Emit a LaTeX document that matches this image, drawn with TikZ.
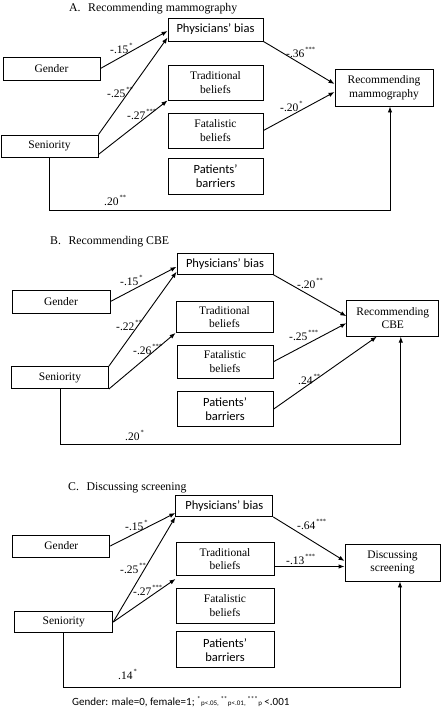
\documentclass[tikz,border=0pt]{standalone}
\usepackage{fontspec}
\setmainfont{Liberation Serif}
\newfontfamily\calibri{Carlito}
\usetikzlibrary{arrows.meta, positioning}

\newcommand{\sig}[1]{\hspace{1pt}\raisebox{6pt}{\fontsize{6.5}{6.5}\selectfont#1}}
\newcommand{\fsig}[1]{\textsuperscript{\fontsize{7}{7}\selectfont#1}}

\begin{document}
\begin{tikzpicture}[x=1pt, y=-1pt,
  box/.style={draw, line width=0.9pt, inner sep=0pt, align=center, font=\fontsize{11.5}{13.5}\selectfont},
  sbox/.style={box, font=\calibri\fontsize{12.5}{14}\selectfont},
  arr/.style={line width=0.9pt, -{Latex[length=6pt,width=4.5pt]}},
  lbl/.style={anchor=base west, inner sep=0pt, font=\fontsize{11.5}{13.5}\selectfont},
  ttl/.style={anchor=base west, inner sep=0pt, font=\fontsize{11.8}{14}\selectfont}]
\useasboundingbox (0,0) rectangle (443,710);

% A. Recommending mammography
\node[ttl] (atitle) at (69,11) {A.\hspace{7.5pt}Recommending mammography};
\node[box, minimum width=97, minimum height=23] (agen) at (51.5,68.5) {Gender};
\node[box, minimum width=97, minimum height=22] (asen) at (49.5,146) {Seniority};
\node[sbox, minimum width=95, minimum height=23] (aphys) at (215.5,29.5) {Physicians’ bias};
\node[box, minimum width=95, minimum height=35] (atrad) at (215.5,82.5) {Traditional\\beliefs};
\node[box, minimum width=95, minimum height=35] (afat) at (215.5,130.5) {Fatalistic\\beliefs};
\node[sbox, minimum width=95, minimum height=36] (apat) at (215.5,176) {Patients’\\barriers};
\node[box, minimum width=98, minimum height=37] (arec) at (384,87.5) {Recommending\\mammography};

\draw[arr] (agen.east) -- ([yshift=-1.5pt]aphys.west);
\draw[arr] (asen.north east) -- ([yshift=-8pt]aphys.west);
\draw[arr] ([yshift=3pt]asen.south east) -- (atrad.south west);
\draw[arr] (aphys.south east) -- ([yshift=3.5pt]arec.west);
\draw[arr] (afat.east) -- ([yshift=-4.5pt]arec.west);
\draw[arr] (asen.south) -- ++(0,53) -| ([xshift=6pt]arec.south);

\foreach \n/\x/\y/\t in {1/110/53/{-.15\sig{*}}, 2/107/97/{-.25\sig{**}},
    3/127/119/{-.27\sig{***}}, 4/286/57/{-.36\sig{***}},
    5/280/111/{-.20\sig{*}}, 6/104/205/{.20\sig{**}}} {
    \node[lbl] (alb\n) at (\x,\y) {\t};
}

% B. Recommending CBE
\node[ttl] (btitle) at (50,244.3) {B.\hspace{7.5pt}Recommending CBE};
\node[box, minimum width=98, minimum height=23] (bgen) at (61,301.5) {Gender};
\node[box, minimum width=97, minimum height=22] (bsen) at (60,377.5) {Seniority};
\node[sbox, minimum width=96, minimum height=21] (bphys) at (225,263.8) {Physicians’ bias};
\node[box, minimum width=97, minimum height=31] (btrad) at (224.5,317) {Traditional\\beliefs};
\node[box, minimum width=96, minimum height=33] (bfat) at (225,361.7) {Fatalistic\\beliefs};
\node[sbox, minimum width=96, minimum height=35] (bpat) at (225,409.2) {Patients’\\barriers};
\node[box, minimum width=92, minimum height=36] (brec) at (392.8,318.2) {Recommending\\CBE};

\draw[arr] (bgen.east) -- ([yshift=-3pt]bphys.west);
\draw[arr] (bsen.north east) -- ([yshift=-8pt]bphys.west);
\draw[arr] (bsen.south east) -- (btrad.south west);
\draw[arr] (bphys.south east) -- ([yshift=2pt]brec.west);
\draw[arr] (bfat.east) -- ([yshift=-5pt]brec.west);
\draw[arr] (bpat.east) -- ([xshift=-16pt]brec.south);
\draw[arr] (bsen.south) -- ++(0,55) -| ([xshift=8pt]brec.south);

\foreach \n/\x/\y/\t in {1/120/285/{-.15\sig{*}}, 2/116/330/{-.22\sig{**}},
    3/133/354/{-.26\sig{***}}, 4/297/288/{-.20\sig{**}},
    5/289/340/{-.25\sig{***}}, 6/298/384/{.24\sig{**}},
    7/125/440/{.20\sig{*}}} {
    \node[lbl] (blb\n) at (\x,\y) {\t};
}

% C. Discussing screening
\node[ttl] (ctitle) at (68,490) {C.\hspace{7.5pt}Discussing screening};
\node[box, minimum width=97, minimum height=22] (cgen) at (61.3,546) {Gender};
\node[box, minimum width=98, minimum height=21] (csen) at (63.8,622) {Seniority};
\node[sbox, minimum width=97, minimum height=21] (cphys) at (224.3,506) {Physicians’ bias};
\node[box, minimum width=98, minimum height=33] (ctrad) at (225,559) {Traditional\\beliefs};
\node[box, minimum width=98, minimum height=35] (cfat) at (225,605.8) {Fatalistic\\beliefs};
\node[sbox, minimum width=98, minimum height=36] (cpat) at (225,649.7) {Patients’\\barriers};
\node[box, minimum width=95, minimum height=37] (cdisc) at (392.5,562.5) {Discussing\\screening};

\draw[arr] (cgen.east) -- ([yshift=-7pt]cphys.west);
\draw[arr] (csen.east) -- (cphys.south west);
\draw[arr] (csen.east) -- ([yshift=-3pt]ctrad.south west);
\draw[arr] (cphys.south east) -- ([yshift=1.5pt]cdisc.west);
\draw[arr] ([yshift=-7.5pt]ctrad.east) -- ([yshift=-4pt]cdisc.west);
\draw[arr] (csen.south) -- ++(0,54.5) -| ([xshift=7.5pt]cdisc.south);

\foreach \n/\x/\y/\t in {1/125/530/{-.15\sig{*}}, 2/120/573/{-.25\sig{**}},
    3/133/595/{-.27\sig{***}}, 4/297/529/{-.64\sig{***}},
    5/286/564/{-.13\sig{***}}, 6/118/679/{.14\sig{*}}} {
    \node[lbl] (clb\n) at (\x,\y) {\t};
}

% footnote
\node[anchor=base west, inner sep=0pt, font=\calibri\fontsize{11}{13}\selectfont] (note) at (72,705)
  {Gender: male=0, female=1; \fsig{*}{\fontsize{7}{7}\selectfont p<.05, }\fsig{**}{\fontsize{7}{7}\selectfont p<.01, }\fsig{***}{\fontsize{7}{7}\selectfont p} <.001};
\end{tikzpicture}
\end{document}
